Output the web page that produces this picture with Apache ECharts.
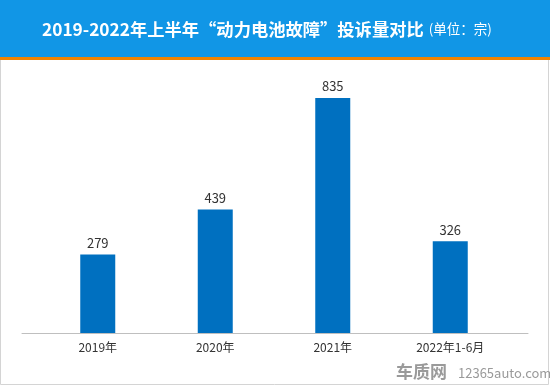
<!DOCTYPE html>
<html><head><meta charset="utf-8">
<script src="https://cdn.jsdelivr.net/npm/echarts@6/dist/echarts.min.js"></script>
<style>html,body{margin:0;padding:0;background:#fff}#c{width:550px;height:386px}</style>
</head><body><div id="c"></div>
<script>
const categories = ['2019年', '2020年', '2021年', '2022年1-6月'];
const values = [279, 439, 835, 326];
const titleMain = '2019-2022年上半年“动力电池故障”投诉量对比';
const titleUnit = '(单位：宗)';

const chart = echarts.init(document.getElementById('c'), null, {renderer: 'canvas'});
const font = '"Noto Sans CJK SC", "Noto Sans", sans-serif';
chart.setOption({
  animation: false,
  backgroundColor: '#fff',
  graphic: [
    {type: 'rect', shape: {x: 0.5, y: 0.5, width: 548, height: 384}, style: {fill: '#fff', stroke: '#d4d4d4', lineWidth: 1}, z: -10},
    {type: 'rect', shape: {x: 0, y: 0, width: 550, height: 57}, style: {fill: '#1196e6'}, z: -5},
    {type: 'rect', shape: {x: 0, y: 57, width: 550, height: 3}, style: {fill: '#f08300'}, z: -5},
    {type: 'text', left: 396, top: 363, style: {text: '车质网', font: 'bold 17px ' + font, fill: '#9a9a9a'}},
    {type: 'text', left: 458, top: 367, style: {text: '12365auto.com', font: '13px ' + font, fill: '#9a9a9a'}}
  ],
  title: {
    text: '{m|' + titleMain + '} {u|' + titleUnit + '}',
    left: 37, top: 15,
    textStyle: {
      rich: {
        m: {fontFamily: font, fontSize: 17.3, fontWeight: 'bold', color: '#fff'},
        u: {fontFamily: font, fontSize: 13.5, fontWeight: 'normal', color: '#fff'}
      }
    }
  },
  grid: [
    {left: 39, right: 41, top: 51.6, bottom: 53},
    {left: 22, right: 22, top: 51.6, bottom: 53}
  ],
  xAxis: [
    {type: 'category', gridIndex: 0, data: categories,
     axisLine: {show: false}, axisTick: {show: false},
     axisLabel: {color: '#333', fontSize: 12, fontFamily: font, margin: 8}},
    {type: 'category', gridIndex: 1, data: categories,
     axisLine: {show: true, lineStyle: {color: '#bfbfbf', width: 1}},
     axisTick: {show: false}, axisLabel: {show: false}}
  ],
  yAxis: [
    {type: 'value', gridIndex: 0, min: 0, max: 1000, show: false, splitLine: {show: false}},
    {type: 'value', gridIndex: 1, min: 0, max: 1000, show: false, splitLine: {show: false}}
  ],
  series: [{
    type: 'bar', xAxisIndex: 0, yAxisIndex: 0,
    data: values, barWidth: 35,
    itemStyle: {color: '#0070c0'},
    label: {show: true, position: 'top', distance: 5, color: '#333', fontSize: 13, fontFamily: font}
  }]
});
</script></body></html>
